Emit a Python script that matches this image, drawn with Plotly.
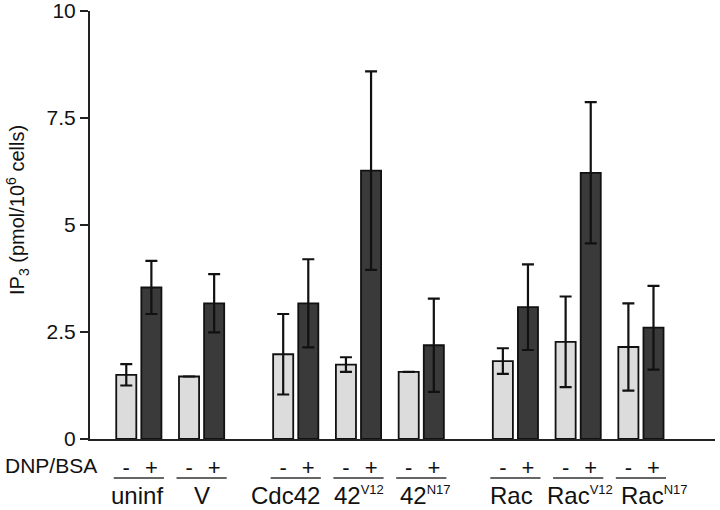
import plotly.graph_objects as go

groups = ["uninf", "V", "Cdc42", "42<sup>V12</sup>", "42<sup>N17</sup>",
          "Rac", "Rac<sup>V12</sup>", "Rac<sup>N17</sup>"]
minus_vals = [1.50, 1.46, 1.98, 1.74, 1.57, 1.82, 2.27, 2.15]
minus_err = [0.25, None, 0.94, 0.17, None, 0.30, 1.06, 1.02]
plus_vals = [3.54, 3.17, 3.17, 6.27, 2.19, 3.08, 6.22, 2.60]
plus_err = [0.62, 0.68, 1.03, 2.32, 1.09, 1.00, 1.65, 0.98]
sign_labels = ["-", "+"]
y_ticks = [0, 2.5, 5, 7.5, 10]
y_tick_labels = ["0", "2.5", "5", "7.5", "10"]

# layout only: extra spacing before groups 2 and 5, and label nudges (px)
gap_before = {2: 0.5, 5: 0.5}
label_shift = [-2, 0, -10, 0, 4, -4, 2, 14]
pos = []
acc = 0.0
for i in range(len(groups)):
    acc += gap_before.get(i, 0.0)
    pos.append(i + acc)

FONT = "Liberation Sans, Arial, sans-serif"
fig = go.Figure()
fig.add_trace(go.Bar(
    x=pos, y=minus_vals, name="-",
    marker=dict(color="#dcdcdc", line=dict(color="#111", width=1.8)),
    error_y=dict(type="data", array=minus_err, visible=True, color="#111", thickness=2.2, width=6),
))
fig.add_trace(go.Bar(
    x=pos, y=plus_vals, name="+",
    marker=dict(color="#3a3a3a", line=dict(color="#111", width=1.8)),
    error_y=dict(type="data", array=plus_err, visible=True, color="#111", thickness=2.2, width=6),
))

off = 0.2
tickvals, ticktext = [], []
for p in pos:
    tickvals += [p - off, p + off]
    ticktext += sign_labels

L, R, T, B = 90, 5, 11, 71
W, H = 720, 510
pw = W - L - R
ph = H - T - B
def px_to_paper_x(px):
    return (px - L) / pw
def px_to_paper_y(py):
    return (H - B - py) / ph

def fmt_label(g):
    return g.replace("<sup>", "<sup><span style='font-size:13px'>").replace("</sup>", "</span></sup>")

annotations = []
for p, g, s in zip(pos, groups, label_shift):
    annotations.append(dict(x=p, y=px_to_paper_y(496), xref="x", yref="paper", text=fmt_label(g),
                            xshift=s, showarrow=False, font=dict(size=24, color="#111", family=FONT),
                            xanchor="center", yanchor="middle"))
annotations.append(dict(x=px_to_paper_x(3), y=px_to_paper_y(465), xref="paper", yref="paper",
                        text="DNP/BSA", showarrow=False, xanchor="left", yanchor="middle",
                        font=dict(size=21, color="#111", family=FONT)))
annotations.append(dict(x=px_to_paper_x(17), y=px_to_paper_y(210), xref="paper", yref="paper",
                        text="IP<sub>3</sub> (pmol/10<sup>6</sup> cells)", textangle=-90,
                        showarrow=False, xanchor="center", yanchor="middle",
                        font=dict(size=20, color="#111", family=FONT)))

shapes = []
for p in pos:
    shapes.append(dict(type="line", xref="x", yref="paper", x0=p - 0.4, x1=p + 0.4,
                       y0=px_to_paper_y(478), y1=px_to_paper_y(478),
                       line=dict(color="#333", width=1.5)))

fig.update_layout(
    template="none",
    width=W, height=H,
    margin=dict(l=L, r=R, t=T, b=B, autoexpand=False),
    paper_bgcolor="white", plot_bgcolor="white",
    barmode="group", bargap=0.2, bargroupgap=0.2,
    showlegend=False,
    font=dict(family=FONT, color="#111"),
    xaxis=dict(range=[-0.778, 9.18], tickmode="array", tickvals=tickvals, ticktext=ticktext,
               ticks="", showgrid=False, zeroline=False, showline=True, linecolor="#222",
               linewidth=2, tickfont=dict(size=22, family=FONT, color="#111"),
               ticklabelstandoff=8, automargin=False, ticklabeloverflow="allow"),
    yaxis=dict(range=[0, 10], tickmode="array", tickvals=y_ticks, ticktext=y_tick_labels,
               ticks="outside", ticklen=8, tickwidth=2, tickcolor="#222",
               showgrid=False, zeroline=False, showline=True, linecolor="#222", linewidth=2,
               tickfont=dict(size=21, family=FONT, color="#111"), automargin=False,
               ticklabeloverflow="allow"),
    annotations=annotations,
    shapes=shapes,
)

fig.write_html("out.html", config={"displayModeBar": False},
               post_script="document.body.style.margin='0';document.body.style.overflow='hidden';")
